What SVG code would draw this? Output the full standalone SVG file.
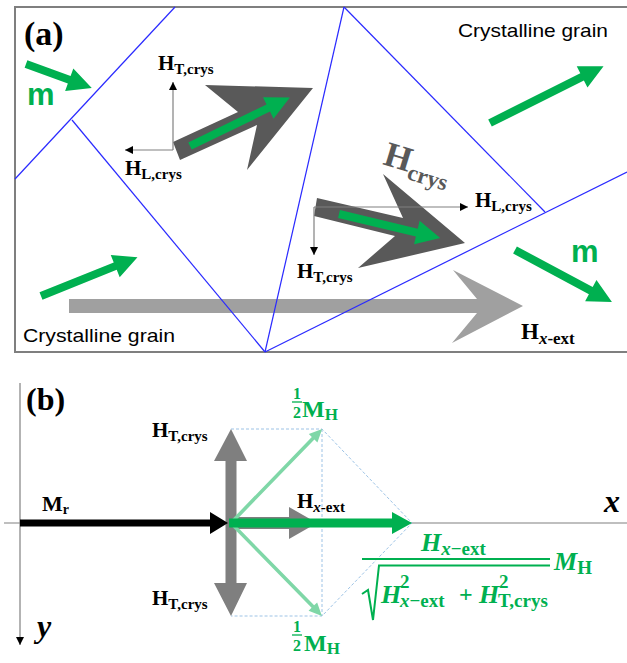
<svg xmlns="http://www.w3.org/2000/svg" width="627" height="663" viewBox="0 0 627 663">
<defs>
<style>
.frame{fill:none;stroke:#7f7f7f;stroke-width:2}
.gb{fill:none;stroke:#2a2aff;stroke-width:1.2}
.grn{fill:#00b050}
.lgrn{fill:#7fd7a7}
.dk{fill:#595959}
.ax{fill:none;stroke:#808080;stroke-width:1.2}
.dot{fill:none;stroke:#9dc3e6;stroke-width:1;stroke-dasharray:3 2}
.lbl{font-family:"Liberation Serif","Times New Roman",serif;font-weight:bold;fill:#000}
.sans{font-family:"Liberation Sans",Arial,sans-serif;fill:#000}
.m{font-family:"Liberation Sans",Arial,sans-serif;font-weight:bold;fill:#00b050;font-size:31px}
.math{font-family:"Liberation Serif","Times New Roman",serif;font-weight:bold;fill:#00b050}
</style>
<marker id="ah" viewBox="0 0 10 10" refX="10" refY="5" markerWidth="10" markerHeight="8" markerUnits="userSpaceOnUse" orient="auto">
<path d="M0,0 L10,5 L0,10 z" fill="#000"/>
</marker>
</defs>
<rect width="627" height="663" fill="#fff"/>

<!-- Panel (a) -->
<g id="panel-a-frame">
<path class="frame" d="M640,7 L15,7 L15,352 L640,352"/>
</g>
<text class="lbl" x="24" y="45" font-size="34">(a)</text>

<g id="hx-ext-arrow-a">
<polygon fill="#a0a0a0" points="69,299 477,299 453,270 523,306 452,343 477,313 69,313"/>
<text class="lbl" x="521" y="339" font-size="23">H<tspan font-size="17" dy="5"><tspan font-style="italic">x</tspan>-ext</tspan></text>
</g>

<g id="grain-boundaries">
<line class="gb" x1="175" y1="7" x2="15" y2="179"/>
<line class="gb" x1="72" y1="120" x2="265" y2="352"/>
<line class="gb" x1="265" y1="352" x2="344" y2="7"/>
<line class="gb" x1="344" y1="7" x2="545" y2="212"/>
<line class="gb" x1="265" y1="352" x2="627" y2="172"/>
</g>

<g id="crys-arrow-1">
<polygon class="dk" points="173,142 238,112 205,85 313,88 247,170 257,125 180,160"/>
<g transform="translate(190,146) rotate(-25.9)"><polygon class="grn" points="0,-4 87,-4 87,-12 111,0 87,12 87,4 0,4"/></g>
</g>
<g id="crys-arrow-2">
<polygon class="dk" points="317,198 403,218 383,174 465,243 358,268 395,236 314,216"/>
<g transform="translate(339,214) rotate(13.4)"><polygon class="grn" points="0,-4 80,-4 80,-12 104,0 80,12 80,4 0,4"/></g>
<text class="lbl" transform="translate(382,164) rotate(17)" font-size="35" style="fill:#595959">H<tspan font-size="23" dy="7">crys</tspan></text>
</g>

<g id="connectors">
<line class="ax" x1="173" y1="150" x2="173" y2="82" marker-end="url(#ah)"/>
<line class="ax" x1="173" y1="150" x2="125" y2="150" marker-end="url(#ah)"/>
<line class="ax" x1="314" y1="207" x2="468" y2="207" marker-end="url(#ah)"/>
<line class="ax" x1="314" y1="207" x2="314" y2="255" marker-end="url(#ah)"/>
</g>

<g id="labels-a">
<text class="lbl" x="158" y="70" font-size="21">H<tspan font-size="15" dy="4">T,crys</tspan></text>
<text class="lbl" x="125" y="175" font-size="21">H<tspan font-size="15" dy="4">L,crys</tspan></text>
<text class="lbl" x="475" y="207" font-size="21">H<tspan font-size="15" dy="4">L,crys</tspan></text>
<text class="lbl" x="297" y="278" font-size="21">H<tspan font-size="15" dy="4">T,crys</tspan></text>
<text class="sans" x="458" y="37" font-size="19" textLength="150" lengthAdjust="spacingAndGlyphs">Crystalline grain</text>
<text class="sans" x="23" y="342" font-size="19" textLength="152" lengthAdjust="spacingAndGlyphs">Crystalline grain</text>
</g>

<g id="m-arrows">
<g transform="translate(26,64) rotate(20)"><polygon class="grn" points="0,-4 46,-4 46,-12 70,0 46,12 46,4 0,4"/></g>
<text class="m" x="27" y="105">m</text>
<g transform="translate(490,123) rotate(-26.6)"><polygon class="grn" points="0,-4 103,-4 103,-12 127,0 103,12 103,4 0,4"/></g>
<g transform="translate(41,296) rotate(-21.9)"><polygon class="grn" points="0,-4 80,-4 80,-12 104,0 80,12 80,4 0,4"/></g>
<g transform="translate(515,250) rotate(28.2)"><polygon class="grn" points="0,-4 86,-4 86,-12 110,0 86,12 86,4 0,4"/></g>
<text class="m" x="571" y="262">m</text>
</g>

<!-- Panel (b) -->
<text class="lbl" x="26" y="410" font-size="32">(b)</text>
<g id="axes-b">
<line class="ax" x1="20" y1="383" x2="20" y2="645" marker-end="url(#ah)"/>
<line class="ax" x1="4" y1="523" x2="627" y2="523"/>
<text class="lbl" x="604" y="512" font-size="32" font-style="italic">x</text>
<text class="lbl" x="37" y="637" font-size="32" font-style="italic">y</text>
</g>

<g id="dotted-guides">
<path class="dot" d="M231,429 L322,429 L412,523 L322,616 L231,616 M322,429 L322,616"/>
</g>

<g id="ht-crys-b">
<polygon fill="#7f7f7f" points="231,429 247,461 236.5,461 236.5,583 247,583 231,616 214,583 225.5,583 225.5,461 214,461"/>
<text class="lbl" x="152" y="437" font-size="21">H<tspan font-size="15" dy="4">T,crys</tspan></text>
<text class="lbl" x="152" y="605" font-size="21">H<tspan font-size="15" dy="4">T,crys</tspan></text>
</g>

<g id="hx-ext-b">
<polygon fill="#7f7f7f" points="231,517 289,517 289,507 317,523 289,539 289,529 231,529"/>
<text class="lbl" x="297" y="508" font-size="21">H<tspan font-size="15" dy="4"><tspan font-style="italic">x</tspan>-ext</tspan></text>
</g>

<g id="mh-halves">
<g transform="translate(231,523) rotate(-45.9)"><polygon class="lgrn" points="0,-1.8 118,-1.8 118,-6 131,0 118,6 118,1.8 0,1.8"/></g>
<g transform="translate(231,523) rotate(45.6)"><polygon class="lgrn" points="0,-1.8 117,-1.8 117,-6 130,0 117,6 117,1.8 0,1.8"/></g>
<g class="math">
<text x="293" y="399" font-size="16">1</text>
<line x1="292" y1="402" x2="302" y2="402" stroke="#00b050" stroke-width="1.3"/>
<text x="293" y="418" font-size="16">2</text>
<text x="302" y="417" font-size="24">M<tspan font-size="17" dy="3">H</tspan></text>
<text x="293" y="632" font-size="16">1</text>
<line x1="292" y1="635" x2="302" y2="635" stroke="#00b050" stroke-width="1.3"/>
<text x="293" y="651" font-size="16">2</text>
<text x="304" y="651" font-size="24">M<tspan font-size="17" dy="3">H</tspan></text>
</g>
</g>

<g id="mh-resultant">
<polygon class="grn" points="229,518.5 392,518.5 392,512 412,523 392,534 392,527.5 229,527.5"/>
</g>

<g id="mr-arrow">
<polygon fill="#000" points="20,519.5 210,519.5 210,512 228,523 210,534 210,526.5 20,526.5"/>
<text class="lbl" x="42" y="511" font-size="22">M<tspan font-size="14" dy="3">r</tspan></text>
</g>

<g id="formula" class="math">
<text x="421" y="551" font-size="26" font-style="italic">H<tspan font-size="19" dy="4">x</tspan><tspan font-size="19" font-style="normal">−ext</tspan></text>
<line x1="362" y1="559" x2="550" y2="559" stroke="#00b050" stroke-width="2"/>
<path d="M362,594 L368,590 L373,620 L379,565.5 L550,565.5" fill="none" stroke="#00b050" stroke-width="2"/>
<text x="381" y="603" font-size="26" font-style="italic">H</text>
<text x="400" y="588" font-size="19">2</text>
<text x="400" y="607" font-size="19"><tspan font-style="italic">x</tspan>−ext</text>
<text x="459" y="602" font-size="24">+</text>
<text x="479" y="603" font-size="26" font-style="italic">H</text>
<text x="499" y="588" font-size="19">2</text>
<text x="498" y="607" font-size="19">T,crys</text>
<text x="554" y="570" font-size="26" font-style="italic">M<tspan font-size="19" dy="4" font-style="normal">H</tspan></text>
</g>
</svg>
